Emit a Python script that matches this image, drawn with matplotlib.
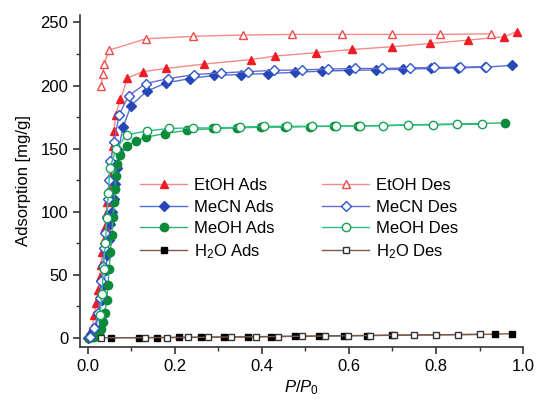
import matplotlib
matplotlib.use('Agg')
import matplotlib.pyplot as plt
from matplotlib.ticker import MultipleLocator

plt.rcParams['font.family'] = ['Liberation Sans', 'DejaVu Sans']
plt.rcParams['mathtext.fontset'] = 'custom'
plt.rcParams['mathtext.rm'] = 'Liberation Sans'
plt.rcParams['mathtext.it'] = 'Liberation Sans:italic'
plt.rcParams['mathtext.default'] = 'regular'

# EtOH
etoh_ads_x = [0.003, 0.010, 0.015, 0.019, 0.023, 0.027, 0.030, 0.033, 0.036, 0.039, 0.042,
              0.045, 0.048, 0.051, 0.054, 0.057, 0.060, 0.064, 0.075, 0.091, 0.127, 0.179,
              0.267, 0.376, 0.430, 0.524, 0.608, 0.698, 0.786, 0.874, 0.956, 0.985]
etoh_ads_y = [1, 8, 18, 28, 38, 48, 58, 68, 78, 88, 98,
              108, 118, 128, 140, 152, 164, 177, 189, 206, 211, 213.5,
              217, 220.6, 223.3, 226, 228.6, 230.7, 233.3, 236, 238.6, 242.6]
etoh_des_x = [0.926, 0.809, 0.698, 0.585, 0.470, 0.356, 0.242, 0.133, 0.049, 0.037, 0.034, 0.031]
etoh_des_y = [241, 240.5, 240.5, 240.5, 240.5, 240, 239, 237, 228, 217, 209, 200]

# MeCN
mecn_ads_x = [0.001, 0.008, 0.017, 0.025, 0.032, 0.037, 0.041, 0.045, 0.049, 0.052, 0.055,
              0.059, 0.062, 0.066, 0.070, 0.081, 0.099, 0.135, 0.179, 0.234, 0.290, 0.352,
              0.414, 0.477, 0.539, 0.600, 0.662, 0.725, 0.789, 0.851, 0.913, 0.974]
mecn_ads_y = [0, 3, 8, 18, 30, 42, 54, 66, 78, 90, 100,
              110, 122, 135, 149, 167, 184, 195.5, 202, 205.5, 208, 208.7,
              209.5, 210.5, 211.4, 212, 212.4, 213, 213.5, 214, 214.5, 216]
mecn_des_x = [0.915, 0.855, 0.796, 0.740, 0.677, 0.615, 0.552, 0.491, 0.428, 0.367, 0.305,
              0.244, 0.185, 0.133, 0.094, 0.072, 0.060, 0.052, 0.049, 0.046, 0.043, 0.040,
              0.037, 0.034, 0.031, 0.027, 0.024, 0.015, 0.005]
mecn_des_y = [215, 214.5, 214.3, 214, 213.5, 213.5, 213, 212.4, 212, 211, 210,
              208.7, 205.5, 201.6, 192, 177, 155, 140, 125, 110, 96, 83,
              71, 57, 45, 32, 20, 8, 1]

# MeOH
meoh_ads_x = [0.002, 0.015, 0.025, 0.031, 0.035, 0.039, 0.043, 0.046, 0.049, 0.052, 0.055,
              0.058, 0.060, 0.062, 0.064, 0.066, 0.074, 0.091, 0.110, 0.133, 0.177, 0.228,
              0.288, 0.342, 0.399, 0.453, 0.510, 0.566, 0.621, 0.959]
meoh_ads_y = [0, 1, 3, 7, 13, 20, 30, 42, 55, 68, 82,
              96, 108, 118, 128, 138, 145, 152, 156, 159, 162, 164.5,
              166, 166.4, 167, 167, 167.5, 167.7, 168, 170.4]
meoh_des_x = [0.905, 0.848, 0.792, 0.735, 0.679, 0.625, 0.570, 0.514, 0.457, 0.405, 0.349,
              0.294, 0.241, 0.187, 0.136, 0.089, 0.065, 0.051, 0.047, 0.044, 0.040, 0.036,
              0.032, 0.028]
meoh_des_y = [169.3, 169.3, 168.8, 168.8, 168, 168, 168, 167.7, 167.7, 167.7, 167,
              166.4, 166.4, 166, 164, 161, 150, 135, 115, 95, 75, 55,
              35, 18]

# H2O
h2o_ads_x = [0.053, 0.117, 0.158, 0.209, 0.261, 0.313, 0.367, 0.422, 0.477, 0.532, 0.589,
             0.641, 0.698, 0.936, 0.974]
h2o_ads_y = [0.2, 0.3, 0.4, 0.5, 0.6, 0.8, 1.0, 1.2, 1.4, 1.6, 1.8, 2.0, 2.2, 3.0, 3.5]
h2o_des_x = [0.901, 0.851, 0.799, 0.750, 0.704, 0.648, 0.597, 0.545, 0.491, 0.437, 0.386,
             0.329, 0.277, 0.231, 0.182, 0.131, 0.031]
h2o_des_y = [2.9, 2.7, 2.5, 2.4, 2.2, 2.0, 1.8, 1.6, 1.4, 1.2, 1.0,
             0.8, 0.6, 0.5, 0.4, 0.3, 0.2]

fig = plt.figure(figsize=(5.37, 4.01), dpi=100)
ax = fig.add_axes([0.149, 0.135, 0.825, 0.828])

series = [
    (etoh_ads_x, etoh_ads_y, 'EtOH Ads', '^', '#f58a8a', '#ee1c24', True),
    (mecn_ads_x, mecn_ads_y, 'MeCN Ads', 'D', '#4d72d6', '#2747b8', True),
    (meoh_ads_x, meoh_ads_y, 'MeOH Ads', 'o', '#33b36b', '#0b8a3a', True),
    (h2o_ads_x, h2o_ads_y, 'H$_2$O Ads', 's', '#7a5a4a', '#000000', True),
    (etoh_des_x, etoh_des_y, 'EtOH Des', '^', '#f58a8a', '#ee4a4a', False),
    (mecn_des_x, mecn_des_y, 'MeCN Des', 'D', '#6a6ad0', '#2f55c8', False),
    (meoh_des_x, meoh_des_y, 'MeOH Des', 'o', '#2dbf8a', '#18a050', False),
    (h2o_des_x, h2o_des_y, 'H$_2$O Des', 's', '#7a5a4a', '#333333', False),
]
for x, y, lab, mk, lc, mc, filled in series:
    size = 5 if mk in ('D', 's') else 6
    ax.plot(x, y, color=lc, lw=1.0, marker=mk, ms=size,
            mfc=mc if filled else 'white', mec=mc, mew=1.0, label=lab)

ax.set_xlim(-0.018, 1.0)
ax.set_ylim(-7, 256)
ax.xaxis.set_major_locator(MultipleLocator(0.2))
ax.xaxis.set_minor_locator(MultipleLocator(0.1))
ax.yaxis.set_major_locator(MultipleLocator(50))
ax.yaxis.set_minor_locator(MultipleLocator(25))
ax.set_xticklabels(['%.1f' % v for v in ax.get_xticks()])
for s in ['top', 'right']:
    ax.spines[s].set_visible(False)
for s in ['left', 'bottom']:
    ax.spines[s].set_linewidth(1.2)
    ax.spines[s].set_color('#333333')
ax.tick_params(which='major', direction='out', length=5, width=1.2, labelsize=12, color='#333333')
ax.tick_params(which='minor', direction='out', length=3, width=1.0, color='#333333')

ax.set_xlabel('$\\mathit{P}/\\mathit{P}_0$', fontsize=12, labelpad=3)
ax.set_ylabel('Adsorption [mg/g]', fontsize=12, labelpad=7)

ax.legend(ncol=2, loc='upper left', bbox_to_anchor=(0.136, 0.508), frameon=False,
          fontsize=12, handlelength=2.8, handletextpad=0.4, columnspacing=2.9,
          labelspacing=0.38, borderpad=0, borderaxespad=0)

fig.savefig('out.png', dpi=100)
